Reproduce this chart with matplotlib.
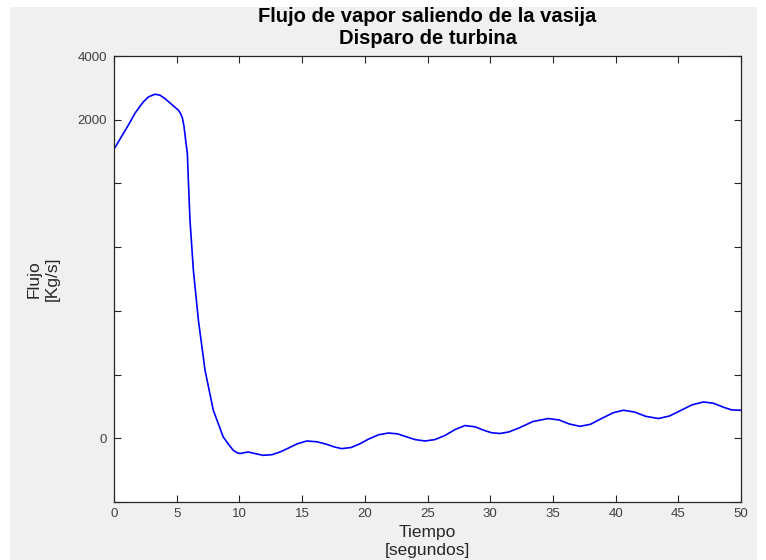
import matplotlib
matplotlib.use("Agg")
import matplotlib.pyplot as plt
from matplotlib.patches import Rectangle
import numpy as np

plt.rcParams["font.family"] = ["Liberation Sans", "DejaVu Sans"]

# Flujo de vapor (kg/s)
tiempo = [0, 0.34, 0.74, 1.14, 1.67, 2.07, 2.34, 2.74, 3.27, 3.67, 4.07, 4.6,
          5.13, 5.3, 5.45, 5.58, 5.7, 5.85, 5.93, 6.06, 6.33, 6.73, 7.26, 7.92,
          8.71, 9.2, 9.51, 9.8, 10.05, 10.4, 10.71, 11.3, 11.9, 12.6, 13.24,
          13.9, 14.6, 15.37, 16.2, 16.96, 17.6, 18.16, 18.9, 19.6, 20.3,
          21.1, 21.88, 22.6, 23.3, 24.0, 24.8, 25.6, 26.4, 27.2, 27.99,
          28.8, 29.5, 30.1, 30.78, 31.5, 32.3, 33.4, 34.63, 35.5, 36.3,
          37.16, 38.0, 38.9, 39.8, 40.62, 41.5, 42.4, 43.41, 44.3, 45.2,
          46.1, 47.0, 47.8, 48.6, 49.26, 50]
flujo = [1815, 1860, 1913, 1965, 2200, 2420, 2560, 2715, 2800, 2770, 2660, 2480,
         2300, 2200, 2060, 1960, 1880, 1788, 1620, 1369, 1055, 741, 427, 176,
         8, -45, -75, -90, -96, -90, -86, -97, -107, -103, -86,
         -62, -35, -17, -22, -38, -55, -65, -58, -35, -5,
         22, 33, 28, 10, -8, -17, -8, 18, 55, 80,
         72, 50, 35, 30, 40, 65, 105, 124, 115, 90,
         75, 88, 125, 160, 176, 165, 138, 124, 140, 175,
         210, 228, 220, 195, 178, 176]

ytick_vals = [-400, 0, 400, 800, 1200, 1600, 2000, 4000]
ytick_labels = ["", "0", "", "", "", "", "2000", "4000"]
xtick_vals = list(range(0, 51, 5))


def fwd(v):
    v = np.asarray(v, dtype=float)
    return np.where(v <= 2000, v / 400.0, 5 + (v - 2000) / 2000.0)


def inv(p):
    p = np.asarray(p, dtype=float)
    return np.where(p <= 5, p * 400.0, 2000 + (p - 5) * 2000.0)


fig = plt.figure(figsize=(7.66, 5.60), dpi=100, facecolor="white")
fig.patches.append(Rectangle((10 / 766, 0), 747 / 766, 553 / 560,
                             transform=fig.transFigure, facecolor="#f0f0f0",
                             edgecolor="none", zorder=-10))

ax = fig.add_axes([114 / 766, 1 - 502 / 560, 627 / 766, 446 / 560])
ax.set_facecolor("white")
ax.plot(tiempo, flujo, color="#0000ff", linewidth=1.2)

ax.set_yscale("function", functions=(fwd, inv))
ax.set_xlim(0, 50)
ax.set_ylim(-400, 4000)
ax.set_xticks(xtick_vals)
ax.set_yticks(ytick_vals)
ax.set_yticklabels(ytick_labels)
ax.minorticks_off()

ax.tick_params(direction="in", length=5, width=0.8, top=True, right=True,
               labelsize=9.5, labelcolor="#404040", colors="#262626", pad=5)
ax.tick_params(axis="x", labelcolor="#404040", pad=4)
for s in ax.spines.values():
    s.set_color("#262626")
    s.set_linewidth(0.9)

ax.set_title("Flujo de vapor saliendo de la vasija\nDisparo de turbina",
             fontsize=14.5, fontweight="bold", color="black", pad=9)
ax.set_xlabel("Tiempo\n[segundos]", fontsize=12.5, color="#262626", labelpad=4)
ax.set_ylabel("Flujo\n[Kg/s]", fontsize=12.5, color="#262626", labelpad=13)

fig.savefig("out.png", dpi=100, facecolor=fig.get_facecolor())
